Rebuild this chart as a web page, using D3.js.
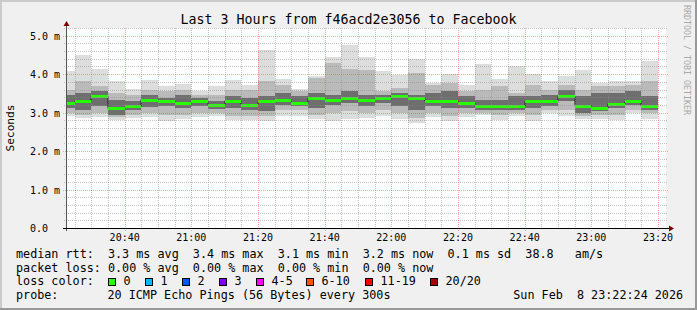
<!DOCTYPE html>
<html><head><meta charset="utf-8">
<script src="https://cdn.jsdelivr.net/npm/d3@7"></script>
<style>
html,body{margin:0;padding:0;background:#f0f0f0;}
svg{display:block;}
text{font-family:"DejaVu Sans Mono",monospace;fill:#000;white-space:pre;}
</style></head><body>
<svg id="c" width="697" height="310"></svg>
<script>
// ---- data ----
const binStart = ["20:20","20:25","20:30","20:35","20:40","20:45","20:50","20:55",
  "21:00","21:05","21:10","21:15","21:20","21:25","21:30","21:35","21:40","21:45","21:50","21:55",
  "22:00","22:05","22:10","22:15","22:20","22:25","22:30","22:35","22:40","22:45","22:50","22:55",
  "23:00","23:05","23:10","23:15"];
const pingMax = [4.07,4.50,4.14,3.81,3.61,3.85,3.70,3.75,3.55,3.68,3.85,3.72,
  4.63,3.87,3.61,3.96,4.44,4.76,4.44,4.09,3.98,4.40,3.78,4.00,
  3.72,4.26,3.88,4.22,4.00,3.83,3.94,4.11,3.78,3.81,3.83,4.35];
const pingHi1 = [3.59,3.81,3.68,3.51,3.46,3.59,3.55,3.59,3.46,3.46,3.59,3.59,
  3.81,3.72,3.55,3.90,4.28,4.13,4.11,3.55,3.64,4.04,3.72,3.77,
  3.55,3.59,3.68,3.52,3.72,3.59,3.72,3.59,3.68,3.68,3.72,3.81];
const pingHi2 = [3.46,3.50,3.55,3.33,3.31,3.46,3.38,3.46,3.38,3.30,3.42,3.38,
  3.42,3.51,3.42,3.51,3.46,3.55,3.46,3.46,3.51,3.46,3.51,3.55,
  3.42,3.33,3.33,3.42,3.42,3.46,3.59,3.42,3.51,3.51,3.55,3.42];
const medianRtt = [3.26,3.31,3.42,3.11,3.16,3.34,3.29,3.26,3.29,3.21,3.31,3.21,
  3.29,3.33,3.26,3.37,3.33,3.37,3.33,3.37,3.44,3.39,3.29,3.31,
  3.26,3.16,3.18,3.16,3.29,3.29,3.42,3.18,3.12,3.23,3.29,3.18];
const pingLo2 = [3.12,3.07,3.16,2.94,3.07,3.14,3.18,3.12,3.18,3.09,3.12,3.07,
  3.03,3.20,3.18,3.12,3.20,3.25,3.16,3.25,3.16,3.07,3.16,3.12,
  3.12,3.07,3.07,3.07,3.12,3.18,3.29,2.99,3.03,3.12,3.20,3.07];
const pingLo1 = [3.00,2.94,2.99,2.88,2.95,2.99,2.94,2.94,2.99,3.00,2.90,2.90,
  2.90,3.07,3.07,2.94,2.99,3.03,2.99,3.07,2.99,2.86,2.99,2.92,
  2.99,3.00,2.94,2.99,2.94,3.07,3.07,2.90,2.94,2.94,3.07,2.99];
const pingMin = [2.92,2.86,2.88,2.81,2.86,2.88,2.79,2.83,2.88,2.92,2.81,2.81,
  2.77,2.90,2.90,2.83,2.77,2.83,2.86,2.92,2.83,2.74,2.88,2.79,
  2.88,2.94,2.81,2.90,2.79,2.99,2.90,2.83,2.83,2.81,2.99,2.83];
const yTickValues = [0,1,2,3,4,5];
const yTickLabels = ["0.0","1.0 m","2.0 m","3.0 m","4.0 m","5.0 m"];
const xTickLabels = ["20:40","21:00","21:20","21:40","22:00","22:20","22:40","23:00","23:20"];
const titleText = "Last 3 Hours from f46acd2e3056 to Facebook";
const rttLine = "median rtt:  3.3 ms avg  3.4 ms max  3.1 ms min  3.2 ms now  0.1 ms sd  38.8   am/s";
const lossLine = "packet loss: 0.00 % avg  0.00 % max  0.00 % min  0.00 % now";
const lossLabels = ["0","1","2","3","4-5","6-10","11-19","20/20"];
const lossColors = ["#26ff00","#00b8ff","#0059ff","#7e00ff","#ff00ff","#ff5500","#ff0000","#a00000"];
const probeText = "20 ICMP Echo Pings (56 Bytes) every 300s";
const dateText = "Sun Feb  8 23:22:24 2026";

// ---- layout ----
const svg = d3.select("#c");
const L = 66, R = 666, T = 28, B = 228;
const day = (h,m,s) => new Date(2026,1,8,h,m,s||0);
const parseT = s => { const [h,m] = s.split(":").map(Number); return day(h,m); };
const x = d3.scaleTime().domain([day(20,22,24), day(23,22,24)]).range([L,R]);
const y = d3.scaleLinear().domain([0,5.2]).range([B,T]);

svg.append("rect").attr("width",697).attr("height",310).attr("fill","#f0f0f0");
// frame
svg.append("rect").attr("x",0).attr("y",0).attr("width",697).attr("height",2).attr("fill","#cbcbcb");
svg.append("rect").attr("x",0).attr("y",0).attr("width",2).attr("height",310).attr("fill","#cbcbcb");
svg.append("rect").attr("x",0).attr("y",308).attr("width",697).attr("height",2).attr("fill","#999");
svg.append("rect").attr("x",695).attr("y",0).attr("width",2).attr("height",310).attr("fill","#999");
// canvas
svg.append("rect").attr("x",L).attr("y",T).attr("width",R-L).attr("height",B-T).attr("fill","#fff");

// smoke bars
const bars = binStart.map((s,i) => {
  const t0 = parseT(s), t1 = d3.timeMinute.offset(t0,5);
  return {x0: Math.round(Math.max(x(t0),L)), x1: Math.round(x(t1)), i};
});
const bands = [
  {lo: pingMin, hi: pingMax, c: "#dddddd"},
  {lo: pingLo1, hi: pingHi1, c: "#bababa"},
  {lo: pingLo2, hi: pingHi2, c: "#6e6e6e"}
];
const gBars = svg.append("g").attr("shape-rendering","crispEdges");
bands.forEach(b => {
  gBars.selectAll(null).data(bars).enter().append("rect")
    .attr("x",d=>d.x0).attr("width",d=>d.x1-d.x0)
    .attr("y",d=>Math.round(y(b.hi[d.i]))).attr("height",d=>Math.round(y(b.lo[d.i]))-Math.round(y(b.hi[d.i])))
    .attr("fill",b.c);
});

// median step line
const stepPts = [];
bars.forEach(d => { stepPts.push([d.x0, y(medianRtt[d.i])]); stepPts.push([d.x1, y(medianRtt[d.i])]); });
svg.append("path").attr("d", d3.line()(stepPts)).attr("fill","none").attr("stroke","#202020").attr("stroke-width",1);
svg.append("g").attr("shape-rendering","crispEdges").selectAll("rect").data(bars).enter().append("rect")
  .attr("x",d=>d.x0).attr("width",d=>d.x1-d.x0)
  .attr("y",d=>Math.round(y(medianRtt[d.i]))-1).attr("height",3)
  .attr("fill",lossColors[0]);

// grid (on top, as rrdtool)
const gGrid = svg.append("g").attr("shape-rendering","crispEdges");
const majorT = x.ticks(d3.timeMinute.every(20)).map(t=>+t);
const minorT = x.ticks(d3.timeMinute.every(5)).filter(t=>!majorT.includes(+t));
minorT.forEach(t => {
  const px = Math.round(x(t))+0.5;
  gGrid.append("line").attr("x1",px).attr("x2",px).attr("y1",T).attr("y2",B+2)
    .attr("stroke","rgba(140,140,140,0.5)").attr("stroke-dasharray","1,1");
});
const minorY = d3.range(1,27).map(k=>k*0.2).filter(v=>Math.abs(v-Math.round(v))>1e-6);
minorY.forEach(v => {
  const py = Math.round(y(v))+0.5;
  gGrid.append("line").attr("x1",L-2).attr("x2",R+2).attr("y1",py).attr("y2",py)
    .attr("stroke","rgba(140,140,140,0.5)").attr("stroke-dasharray","1,1");
});
majorT.forEach(t => {
  const px = Math.round(x(t))+0.5;
  gGrid.append("line").attr("x1",px).attr("x2",px).attr("y1",T).attr("y2",B+3)
    .attr("stroke","rgba(255,60,60,0.45)").attr("stroke-dasharray","1,1");
});
yTickValues.filter(v=>v>0).forEach(v => {
  const py = Math.round(y(v))+0.5;
  gGrid.append("line").attr("x1",L-3).attr("x2",R+2).attr("y1",py).attr("y2",py)
    .attr("stroke","rgba(255,60,60,0.45)").attr("stroke-dasharray","1,1");
});

// axes
const gAx = svg.append("g").attr("shape-rendering","crispEdges");
gAx.append("line").attr("x1",L+0.5).attr("x2",L+0.5).attr("y1",B+3).attr("y2",T-3).attr("stroke","#555");
gAx.append("line").attr("x1",L-3).attr("x2",R+3).attr("y1",B+0.5).attr("y2",B+0.5).attr("stroke","#000");
svg.append("path").attr("d",`M${L-2.5},${T-2}L${L+0.5},${T-7}L${L+3.5},${T-2}Z`).attr("fill","#7f0000");
svg.append("path").attr("d",`M${R+3},${B-2.5}L${R+8},${B+0.5}L${R+3},${B+3.5}Z`).attr("fill","#7f0000");

// tick labels
svg.selectAll(".yl").data(yTickValues).enter().append("text")
  .attr("x",30).attr("y",(v)=>Math.round(y(v))+3.5).attr("font-size","10px")
  .text((v,i)=>yTickLabels[i]);
svg.selectAll(".xl").data(xTickLabels).enter().append("text")
  .attr("x",s=>x(parseT(s))).attr("y",240.5).attr("text-anchor","middle").attr("font-size","10px")
  .text(s=>s);

// title & axis titles
svg.append("text").attr("x",348.5).attr("y",24).attr("text-anchor","middle").attr("font-size","13.3px").text(titleText);
svg.append("text").attr("transform",`translate(13.5,${(T+B)/2}) rotate(-90)`).attr("text-anchor","middle")
  .attr("font-size","11.2px").text("Seconds");
svg.append("text").attr("transform","translate(684,5) rotate(90)").attr("font-size","8.3px")
  .style("fill","#a8a8a8").text("RRDTOOL / TOBI OETIKER");

// legend
const fs = "11.76px";
svg.append("text").attr("x",16).attr("y",258).attr("font-size",fs).text(rttLine);
svg.append("text").attr("x",16).attr("y",271.5).attr("font-size",fs).text(lossLine);
svg.append("text").attr("x",16).attr("y",285).attr("font-size",fs).text("loss color:");
const boxX = [108.5,145.5,182.5,219.5,256.5,306.5,365.5,430.5];
lossLabels.forEach((lab,i) => {
  svg.append("rect").attr("x",boxX[i]).attr("y",278.5).attr("width",7).attr("height",7)
    .attr("fill",lossColors[i]).attr("stroke","#000").attr("stroke-width",1);
  svg.append("text").attr("x",boxX[i]+15).attr("y",285).attr("font-size",fs).text(lab);
});
svg.append("text").attr("x",16).attr("y",298.5).attr("font-size",fs).text("probe:");
svg.append("text").attr("x",107.5).attr("y",298.5).attr("font-size",fs).text(probeText);
svg.append("text").attr("x",513.3).attr("y",298.5).attr("font-size",fs).text(dateText);
</script>
</body></html>
